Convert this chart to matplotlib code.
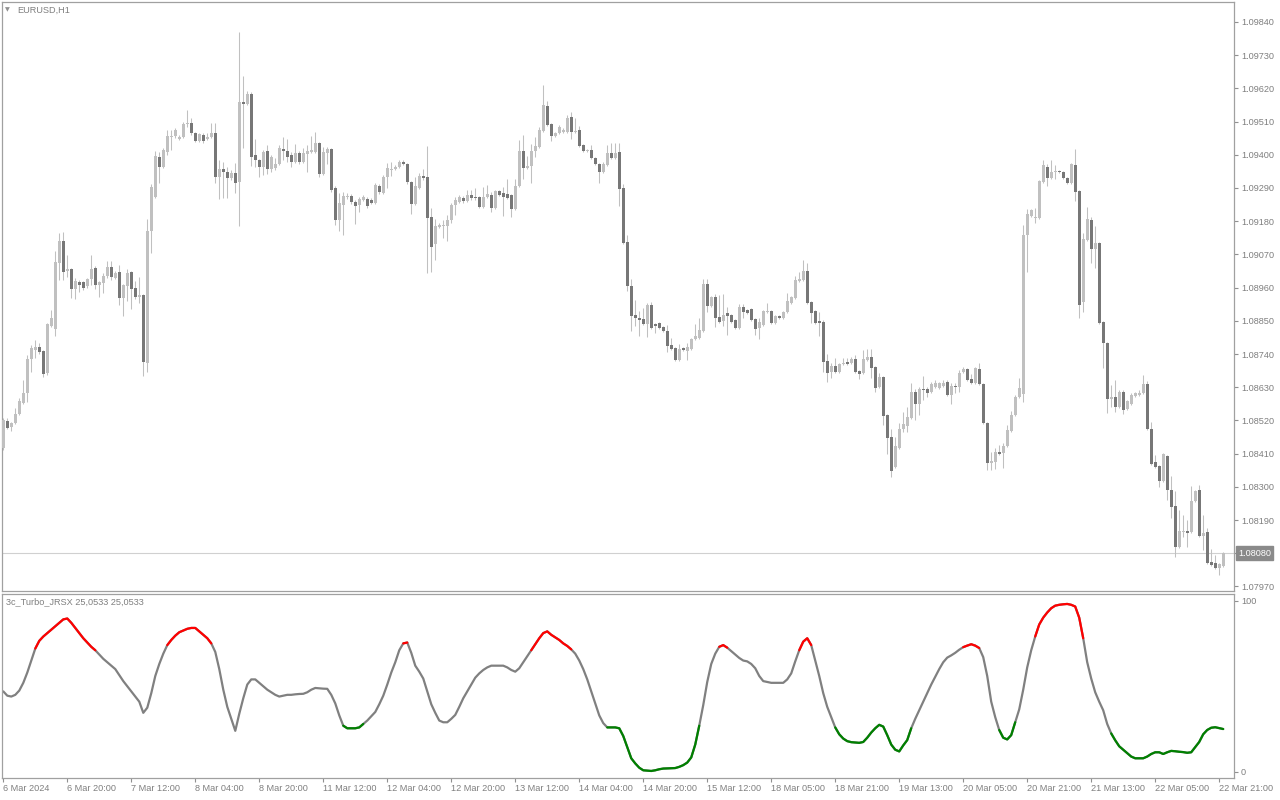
import numpy as np
import matplotlib.pyplot as plt
from matplotlib.transforms import blended_transform_factory

W, H = 1280, 800

# EURUSD H1 candles, 6 Mar 2024 04:00 .. 22 Mar 21:00
opens = [
    1.08429, 1.08518, 1.08498, 1.08512, 1.08541, 1.08578, 1.08611, 1.08724, 1.08754, 1.08763,
    1.08750, 1.08677, 1.08833, 1.08823, 1.09042, 1.09115, 1.09015, 1.09022, 1.08956, 1.08979,
    1.08979, 1.08966, 1.08989, 1.09025, 1.08969, 1.08976, 1.08999, 1.09028, 1.08992, 1.09012,
    1.08926, 1.08966, 1.09012, 1.08959, 1.08929, 1.08936, 1.08710, 1.09148, 1.09260, 1.09393,
    1.09360, 1.09410, 1.09459, 1.09462, 1.09453, 1.09459, 1.09502, 1.09506, 1.09472, 1.09446,
    1.09466, 1.09453, 1.09459, 1.09472, 1.09327, 1.09353, 1.09343, 1.09323, 1.09340, 1.09310,
    1.09575, 1.09568, 1.09602, 1.09400, 1.09383, 1.09360, 1.09413, 1.09353, 1.09356, 1.09370,
    1.09419, 1.09413, 1.09400, 1.09376, 1.09406, 1.09376, 1.09403, 1.09410, 1.09410, 1.09439,
    1.09337, 1.09406, 1.09419, 1.09290, 1.09184, 1.09234, 1.09260, 1.09264, 1.09244, 1.09234,
    1.09250, 1.09254, 1.09250, 1.09241, 1.09297, 1.09274, 1.09327, 1.09350, 1.09353, 1.09360,
    1.09376, 1.09370, 1.09310, 1.09237, 1.09290, 1.09330, 1.09327, 1.09194, 1.09105, 1.09161,
    1.09164, 1.09164, 1.09184, 1.09234, 1.09244, 1.09257, 1.09247, 1.09267, 1.09260, 1.09260,
    1.09227, 1.09260, 1.09267, 1.09224, 1.09280, 1.09274, 1.09270, 1.09267, 1.09221, 1.09297,
    1.09413, 1.09356, 1.09363, 1.09413, 1.09426, 1.09479, 1.09562, 1.09502, 1.09462, 1.09472,
    1.09476, 1.09476, 1.09525, 1.09476, 1.09482, 1.09433, 1.09413, 1.09416, 1.09390, 1.09370,
    1.09343, 1.09366, 1.09406, 1.09390, 1.09410, 1.09290, 1.09111, 1.08966, 1.08869, 1.08860,
    1.08856, 1.08840, 1.08903, 1.08840, 1.08843, 1.08830, 1.08816, 1.08770, 1.08760, 1.08720,
    1.08760, 1.08750, 1.08757, 1.08790, 1.08793, 1.08816, 1.08972, 1.08899, 1.08929, 1.08863,
    1.08850, 1.08876, 1.08869, 1.08853, 1.08826, 1.08896, 1.08886, 1.08889, 1.08856, 1.08826,
    1.08836, 1.08879, 1.08883, 1.08843, 1.08866, 1.08860, 1.08879, 1.08909, 1.08926, 1.08982,
    1.08985, 1.09015, 1.08912, 1.08883, 1.08850, 1.08846, 1.08717, 1.08681, 1.08700, 1.08681,
    1.08707, 1.08714, 1.08710, 1.08724, 1.08684, 1.08677, 1.08720, 1.08730, 1.08697, 1.08631,
    1.08664, 1.08538, 1.08465, 1.08366, 1.08429, 1.08492, 1.08502, 1.08528, 1.08614, 1.08575,
    1.08624, 1.08624, 1.08614, 1.08631, 1.08628, 1.08634, 1.08648, 1.08604, 1.08634, 1.08631,
    1.08681, 1.08691, 1.08657, 1.08644, 1.08691, 1.08641, 1.08512, 1.08379, 1.08382, 1.08416,
    1.08412, 1.08435, 1.08485, 1.08538, 1.08598, 1.08608, 1.09134, 1.09198, 1.09191, 1.09191,
    1.09310, 1.09360, 1.09323, 1.09343, 1.09346, 1.09343, 1.09323, 1.09307, 1.09366, 1.09280,
    1.08912, 1.09118, 1.09184, 1.09088, 1.09108, 1.08846, 1.08777, 1.08591, 1.08598, 1.08565,
    1.08614, 1.08558, 1.08575, 1.08601, 1.08604, 1.08611, 1.08641, 1.08492, 1.08382, 1.08369,
    1.08320, 1.08402, 1.08290, 1.08237, 1.08101, 1.08151, 1.08154, 1.08151, 1.08253, 1.08290,
    1.08137, 1.08151, 1.08051, 1.08048, 1.08031, 1.08038,
]
highs = [
    1.08528, 1.08528, 1.08515, 1.08561, 1.08594, 1.08654, 1.08737, 1.08770, 1.08787, 1.08777,
    1.08754, 1.08843, 1.08886, 1.09081, 1.09141, 1.09144, 1.09068, 1.09025, 1.08992, 1.08985,
    1.08982, 1.08992, 1.09068, 1.09032, 1.08982, 1.09009, 1.09048, 1.09048, 1.09015, 1.09035,
    1.08972, 1.09022, 1.09015, 1.08982, 1.08995, 1.08939, 1.09187, 1.09303, 1.09413, 1.09410,
    1.09423, 1.09482, 1.09482, 1.09489, 1.09466, 1.09509, 1.09549, 1.09522, 1.09476, 1.09472,
    1.09472, 1.09472, 1.09506, 1.09506, 1.09383, 1.09376, 1.09360, 1.09350, 1.09373, 1.09807,
    1.09661, 1.09612, 1.09608, 1.09453, 1.09386, 1.09416, 1.09433, 1.09400, 1.09390, 1.09433,
    1.09459, 1.09453, 1.09410, 1.09436, 1.09413, 1.09423, 1.09433, 1.09462, 1.09476, 1.09443,
    1.09426, 1.09426, 1.09423, 1.09297, 1.09274, 1.09277, 1.09274, 1.09270, 1.09250, 1.09260,
    1.09267, 1.09260, 1.09257, 1.09307, 1.09303, 1.09333, 1.09373, 1.09376, 1.09366, 1.09383,
    1.09383, 1.09373, 1.09313, 1.09327, 1.09340, 1.09353, 1.09429, 1.09224, 1.09187, 1.09174,
    1.09184, 1.09201, 1.09241, 1.09260, 1.09267, 1.09264, 1.09284, 1.09284, 1.09290, 1.09264,
    1.09294, 1.09300, 1.09277, 1.09284, 1.09284, 1.09294, 1.09320, 1.09270, 1.09320, 1.09449,
    1.09466, 1.09396, 1.09436, 1.09459, 1.09492, 1.09631, 1.09578, 1.09506, 1.09476, 1.09499,
    1.09489, 1.09532, 1.09542, 1.09522, 1.09496, 1.09436, 1.09419, 1.09433, 1.09393, 1.09373,
    1.09376, 1.09433, 1.09439, 1.09439, 1.09439, 1.09303, 1.09134, 1.08989, 1.08919, 1.08883,
    1.08893, 1.08909, 1.08912, 1.08843, 1.08846, 1.08833, 1.08836, 1.08793, 1.08763, 1.08773,
    1.08763, 1.08777, 1.08793, 1.08840, 1.08860, 1.08989, 1.08989, 1.08932, 1.08939, 1.08936,
    1.08939, 1.08896, 1.08873, 1.08856, 1.08906, 1.08906, 1.08889, 1.08893, 1.08860, 1.08860,
    1.08886, 1.08909, 1.08886, 1.08869, 1.08869, 1.08883, 1.08942, 1.08932, 1.08999, 1.09012,
    1.09052, 1.09042, 1.08916, 1.08886, 1.08879, 1.08853, 1.08740, 1.08710, 1.08727, 1.08710,
    1.08727, 1.08727, 1.08730, 1.08737, 1.08687, 1.08754, 1.08757, 1.08757, 1.08700, 1.08677,
    1.08667, 1.08541, 1.08492, 1.08465, 1.08512, 1.08548, 1.08565, 1.08644, 1.08624, 1.08631,
    1.08667, 1.08631, 1.08648, 1.08654, 1.08648, 1.08654, 1.08654, 1.08644, 1.08644, 1.08687,
    1.08697, 1.08694, 1.08674, 1.08697, 1.08710, 1.08644, 1.08515, 1.08416, 1.08429, 1.08439,
    1.08445, 1.08505, 1.08551, 1.08604, 1.08661, 1.09168, 1.09221, 1.09221, 1.09224, 1.09317,
    1.09383, 1.09370, 1.09383, 1.09366, 1.09350, 1.09346, 1.09327, 1.09373, 1.09419, 1.09284,
    1.09141, 1.09227, 1.09194, 1.09164, 1.09111, 1.08850, 1.08780, 1.08638, 1.08654, 1.08621,
    1.08621, 1.08588, 1.08611, 1.08614, 1.08621, 1.08671, 1.08651, 1.08515, 1.08406, 1.08372,
    1.08412, 1.08406, 1.08336, 1.08286, 1.08223, 1.08207, 1.08190, 1.08303, 1.08290, 1.08306,
    1.08207, 1.08164, 1.08094, 1.08074, 1.08048, 1.08084,
]
lows = [
    1.08422, 1.08492, 1.08485, 1.08508, 1.08538, 1.08575, 1.08581, 1.08681, 1.08727, 1.08740,
    1.08664, 1.08671, 1.08830, 1.08800, 1.08985, 1.08985, 1.08995, 1.08926, 1.08922, 1.08946,
    1.08952, 1.08959, 1.08969, 1.08956, 1.08929, 1.08942, 1.08992, 1.08985, 1.08989, 1.08903,
    1.08866, 1.08916, 1.08889, 1.08922, 1.08909, 1.08667, 1.08681, 1.09075, 1.09257, 1.09307,
    1.09356, 1.09400, 1.09416, 1.09456, 1.09449, 1.09456, 1.09492, 1.09466, 1.09443, 1.09443,
    1.09439, 1.09449, 1.09456, 1.09307, 1.09254, 1.09257, 1.09257, 1.09317, 1.09274, 1.09164,
    1.09423, 1.09565, 1.09363, 1.09360, 1.09327, 1.09333, 1.09337, 1.09343, 1.09350, 1.09366,
    1.09383, 1.09376, 1.09360, 1.09373, 1.09370, 1.09373, 1.09343, 1.09406, 1.09406, 1.09327,
    1.09333, 1.09370, 1.09277, 1.09168, 1.09148, 1.09134, 1.09254, 1.09237, 1.09171, 1.09211,
    1.09247, 1.09224, 1.09237, 1.09237, 1.09270, 1.09270, 1.09290, 1.09330, 1.09350, 1.09356,
    1.09366, 1.09303, 1.09204, 1.09234, 1.09287, 1.09317, 1.09009, 1.09012, 1.09052, 1.09158,
    1.09125, 1.09115, 1.09174, 1.09201, 1.09241, 1.09241, 1.09244, 1.09250, 1.09250, 1.09224,
    1.09224, 1.09257, 1.09211, 1.09221, 1.09264, 1.09198, 1.09254, 1.09194, 1.09217, 1.09294,
    1.09320, 1.09353, 1.09307, 1.09393, 1.09423, 1.09476, 1.09496, 1.09446, 1.09459, 1.09469,
    1.09472, 1.09472, 1.09453, 1.09472, 1.09426, 1.09410, 1.09410, 1.09386, 1.09366, 1.09307,
    1.09340, 1.09363, 1.09386, 1.09386, 1.09231, 1.09105, 1.08949, 1.08816, 1.08833, 1.08800,
    1.08836, 1.08797, 1.08823, 1.08810, 1.08823, 1.08813, 1.08747, 1.08754, 1.08717, 1.08717,
    1.08750, 1.08720, 1.08754, 1.08787, 1.08790, 1.08813, 1.08879, 1.08896, 1.08830, 1.08843,
    1.08833, 1.08803, 1.08843, 1.08823, 1.08823, 1.08860, 1.08873, 1.08850, 1.08803, 1.08790,
    1.08833, 1.08876, 1.08840, 1.08840, 1.08856, 1.08856, 1.08876, 1.08906, 1.08922, 1.08979,
    1.08982, 1.08906, 1.08843, 1.08840, 1.08800, 1.08681, 1.08648, 1.08661, 1.08677, 1.08677,
    1.08704, 1.08704, 1.08707, 1.08677, 1.08657, 1.08674, 1.08717, 1.08661, 1.08614, 1.08628,
    1.08505, 1.08409, 1.08333, 1.08363, 1.08426, 1.08482, 1.08482, 1.08525, 1.08522, 1.08538,
    1.08588, 1.08598, 1.08611, 1.08628, 1.08624, 1.08631, 1.08601, 1.08575, 1.08611, 1.08614,
    1.08677, 1.08651, 1.08641, 1.08641, 1.08638, 1.08508, 1.08356, 1.08356, 1.08359, 1.08406,
    1.08363, 1.08432, 1.08482, 1.08535, 1.08594, 1.08581, 1.09012, 1.09194, 1.09174, 1.09187,
    1.09307, 1.09297, 1.09320, 1.09320, 1.09340, 1.09320, 1.09303, 1.09303, 1.09247, 1.08860,
    1.08879, 1.09115, 1.09042, 1.09025, 1.08840, 1.08694, 1.08545, 1.08565, 1.08548, 1.08561,
    1.08541, 1.08555, 1.08571, 1.08598, 1.08601, 1.08608, 1.08488, 1.08372, 1.08363, 1.08300,
    1.08316, 1.08257, 1.08197, 1.08068, 1.08097, 1.08134, 1.08101, 1.08147, 1.08250, 1.08134,
    1.08091, 1.08044, 1.08038, 1.08028, 1.08008, 1.08034,
]
closes = [
    1.08522, 1.08495, 1.08512, 1.08541, 1.08585, 1.08611, 1.08724, 1.08760, 1.08763, 1.08747,
    1.08674, 1.08840, 1.08860, 1.09045, 1.09115, 1.09012, 1.09022, 1.08956, 1.08982, 1.08969,
    1.08959, 1.08989, 1.09022, 1.08969, 1.08979, 1.08999, 1.09028, 1.08995, 1.09009, 1.08926,
    1.08969, 1.09009, 1.08956, 1.08929, 1.08936, 1.08714, 1.09148, 1.09294, 1.09396, 1.09360,
    1.09416, 1.09462, 1.09462, 1.09482, 1.09459, 1.09502, 1.09506, 1.09472, 1.09446, 1.09469,
    1.09446, 1.09459, 1.09472, 1.09327, 1.09353, 1.09343, 1.09323, 1.09340, 1.09307, 1.09575,
    1.09568, 1.09602, 1.09393, 1.09383, 1.09360, 1.09410, 1.09353, 1.09393, 1.09370, 1.09423,
    1.09413, 1.09393, 1.09376, 1.09406, 1.09376, 1.09406, 1.09413, 1.09416, 1.09439, 1.09337,
    1.09410, 1.09419, 1.09284, 1.09184, 1.09241, 1.09264, 1.09264, 1.09244, 1.09231, 1.09254,
    1.09260, 1.09231, 1.09241, 1.09300, 1.09277, 1.09327, 1.09356, 1.09353, 1.09360, 1.09376,
    1.09370, 1.09310, 1.09237, 1.09297, 1.09330, 1.09323, 1.09191, 1.09095, 1.09164, 1.09168,
    1.09168, 1.09184, 1.09234, 1.09250, 1.09260, 1.09247, 1.09267, 1.09257, 1.09257, 1.09227,
    1.09260, 1.09270, 1.09224, 1.09280, 1.09267, 1.09260, 1.09257, 1.09221, 1.09297, 1.09413,
    1.09356, 1.09363, 1.09413, 1.09429, 1.09482, 1.09565, 1.09499, 1.09462, 1.09472, 1.09492,
    1.09482, 1.09522, 1.09476, 1.09479, 1.09429, 1.09413, 1.09416, 1.09390, 1.09370, 1.09343,
    1.09370, 1.09406, 1.09390, 1.09406, 1.09287, 1.09108, 1.08966, 1.08866, 1.08860, 1.08853,
    1.08840, 1.08903, 1.08826, 1.08833, 1.08826, 1.08816, 1.08767, 1.08757, 1.08720, 1.08757,
    1.08754, 1.08763, 1.08790, 1.08800, 1.08820, 1.08972, 1.08899, 1.08929, 1.08860, 1.08846,
    1.08869, 1.08866, 1.08846, 1.08826, 1.08896, 1.08879, 1.08876, 1.08853, 1.08823, 1.08846,
    1.08883, 1.08883, 1.08843, 1.08866, 1.08860, 1.08879, 1.08916, 1.08929, 1.08985, 1.08989,
    1.09015, 1.08909, 1.08876, 1.08843, 1.08843, 1.08714, 1.08677, 1.08700, 1.08681, 1.08707,
    1.08710, 1.08707, 1.08724, 1.08681, 1.08674, 1.08724, 1.08730, 1.08694, 1.08628, 1.08664,
    1.08535, 1.08462, 1.08353, 1.08435, 1.08492, 1.08508, 1.08531, 1.08614, 1.08575, 1.08624,
    1.08621, 1.08611, 1.08641, 1.08644, 1.08644, 1.08644, 1.08604, 1.08634, 1.08631, 1.08677,
    1.08691, 1.08654, 1.08644, 1.08694, 1.08641, 1.08512, 1.08379, 1.08386, 1.08416, 1.08409,
    1.08435, 1.08488, 1.08538, 1.08598, 1.08628, 1.09134, 1.09204, 1.09217, 1.09194, 1.09313,
    1.09366, 1.09323, 1.09343, 1.09346, 1.09343, 1.09323, 1.09307, 1.09370, 1.09277, 1.08903,
    1.09121, 1.09187, 1.09088, 1.09108, 1.08843, 1.08777, 1.08591, 1.08598, 1.08565, 1.08614,
    1.08555, 1.08585, 1.08604, 1.08611, 1.08611, 1.08641, 1.08492, 1.08376, 1.08366, 1.08320,
    1.08409, 1.08290, 1.08233, 1.08101, 1.08154, 1.08154, 1.08147, 1.08253, 1.08286, 1.08137,
    1.08147, 1.08048, 1.08041, 1.08031, 1.08044, 1.08080,
]

# 3c_Turbo_JRSX, one value per bar
jrsx = [
    47, 44.5, 44, 45, 47.5, 52, 58, 65, 72, 76.5,
    79, 81, 83, 85, 87, 89, 89.5, 87, 84, 81,
    78, 75.5, 73, 71, 68.5, 66, 64, 62, 60, 56.5,
    53, 50, 47, 44, 41, 34.5, 37.5, 46, 56, 63,
    69, 74, 77, 79.5, 81.5, 82.5, 83.5, 84, 84, 82,
    80, 78, 75, 70, 60, 48, 38, 31, 24, 34,
    43, 51, 54, 54, 52, 50, 48, 46.5, 45, 44,
    44.5, 45, 45, 45.3, 45.5, 45.6, 46.5, 48, 49, 48.8,
    48.6, 48.5, 45, 40, 33, 27, 25.5, 25.5, 25.5, 26,
    28, 30, 32.5, 35, 39.5, 44.5, 51, 58, 64, 71,
    75, 75.5, 69.5, 62, 58.5, 54.5, 47, 39.5, 34.5, 30,
    29, 29, 31, 33.3, 38, 43, 47, 51, 55, 57.5,
    59.5, 61, 62, 62, 62, 62, 61, 59.5, 58.5, 60.5,
    64, 67.5, 71, 74.5, 78, 81, 82, 80, 78.5, 77,
    75, 73.5, 71.5, 69, 65, 60, 54, 47, 40, 33,
    28.5, 26, 26, 26, 25.5, 21, 14.5, 8, 5, 2.5,
    1, 0.8, 0.6, 1, 1.6, 2, 2.1, 2.2, 2.3, 3,
    4, 5.5, 8.5, 16, 27, 39, 52.5, 63, 69, 73,
    74, 72.5, 70.5, 68.5, 66.5, 65, 64.5, 63, 60.5, 56,
    53, 52.5, 52, 52, 52, 52, 54, 57.5, 64.5, 71,
    76, 78, 74, 65, 56, 46, 38, 32, 26, 22,
    19.5, 18, 17.4, 17.2, 17, 17.5, 20, 23, 25.5, 27.5,
    26.5, 21.5, 16, 13, 12, 15.5, 18.6, 25.5, 31, 36,
    41, 46, 51, 55.5, 60, 64, 66.7, 68, 69.5, 71.3,
    72.8, 73.7, 74.5, 73.7, 72.3, 67, 56, 41, 32, 24.5,
    20, 19, 21.5, 29, 36.5, 48, 61, 71, 79, 86,
    90, 93, 95.5, 97, 97.5, 97.8, 98, 97.5, 96.5, 90,
    78, 64, 54.5, 46.5, 41, 36, 28, 22.5, 18.5, 15,
    13, 11, 9, 8, 8, 8, 9, 10.5, 11.5, 11.5,
    10.5, 11.5, 12.3, 12.1, 11.8, 11.6, 11.2, 11.5, 14.5, 17.5,
    22, 24.5, 25.8, 26.1, 25.6, 25.05,
]
red_spans = [(8, 23), (41, 52), (100, 101), (132, 142), (179, 181), (199, 202), (240, 244), (258, 270)]
green_spans = [(85, 90), (151, 174), (208, 227), (249, 253), (277, 305)]

price_ticks = [1.09840, 1.09730, 1.09620, 1.09510, 1.09400, 1.09290, 1.09180, 1.09070, 1.08960,
               1.08850, 1.08740, 1.08630, 1.08520, 1.08410, 1.08300, 1.08190, 1.08080, 1.07970]
time_labels = ["6 Mar 2024", "6 Mar 20:00", "7 Mar 12:00", "8 Mar 04:00", "8 Mar 20:00",
               "11 Mar 12:00", "12 Mar 04:00", "12 Mar 20:00", "13 Mar 12:00", "14 Mar 04:00",
               "14 Mar 20:00", "15 Mar 12:00", "18 Mar 05:00", "18 Mar 21:00", "19 Mar 13:00",
               "20 Mar 05:00", "20 Mar 21:00", "21 Mar 13:00", "22 Mar 05:00", "22 Mar 21:00"]
last_price = 1.08080

txt = '#7f7f7f'
frame = '#a0a0a0'
fs = 6.6


def px_box(x0, y0, x1, y1):
    return [x0 / W, 1 - y1 / H, (x1 - x0) / W, (y1 - y0) / H]


plt.rcParams['font.family'] = ['Liberation Sans', 'DejaVu Sans']
fig = plt.figure(figsize=(W / 100, H / 100), dpi=100)
ax = fig.add_axes(px_box(2, 2, 1234, 591))
ax2 = fig.add_axes(px_box(2, 594, 1234, 778))

x = np.arange(len(closes))
o = np.array(opens)
c = np.array(closes)
hi = np.array(highs)
lo = np.array(lows)
up = c >= o

# candles
ax.vlines(x, lo, hi, color='#c0c0c0', lw=0.75, zorder=2)
bottom = np.minimum(o, c)
height = np.maximum(np.abs(c - o), 0.00003)
ax.bar(x[up], height[up], bottom=bottom[up], width=0.75, color='#c0c0c0', lw=0, zorder=3)
ax.bar(x[~up], height[~up], bottom=bottom[~up], width=0.75, color='#777777', lw=0, zorder=3)

# bid line + price box (the box replaces the axis label at that level)
ax.axhline(last_price, color='#d0d0d0', lw=0.8, zorder=1)
trans = blended_transform_factory(ax.transAxes, ax.transData)
ax.text(1.0 + 4 / 1232, last_price, '%.5f' % last_price, transform=trans, ha='left', va='center',
        fontsize=fs, color='white', clip_on=False, zorder=10,
        bbox=dict(boxstyle='square,pad=0.25', fc='#8a8a8a', ec='#8a8a8a'))

ax.set_xlim(-0.325, 307.7)
ax.set_ylim(1.07955, 1.09906)
ax.set_xticks([])
ax.yaxis.tick_right()
ax.set_yticks(price_ticks)
ax.set_yticklabels(['' if abs(p - last_price) < 1e-7 else '%.5f' % p for p in price_ticks])
ax.tick_params(axis='y', direction='out', length=3, width=0.8, color='#909090',
               labelcolor=txt, labelsize=fs, pad=2)

# indicator
j = np.array(jrsx)
ax2.plot(x, j, color='#808080', lw=1.6, solid_capstyle='round')
for a, b in red_spans:
    ax2.plot(x[a:b + 1], j[a:b + 1], color='#ff0000', lw=1.6, solid_capstyle='round')
for a, b in green_spans:
    ax2.plot(x[a:b + 1], j[a:b + 1], color='#008000', lw=1.6, solid_capstyle='round')

ax2.set_xlim(-0.325, 307.7)
ax2.set_ylim(-3.5, 103.8)
ax2.yaxis.tick_right()
ax2.set_yticks([0, 100])
ax2.set_yticklabels(['0', '100'])
ax2.tick_params(axis='y', direction='out', length=3, width=0.8, color='#909090',
                labelcolor=txt, labelsize=fs, pad=2)
ax2.set_xticks(x[::16][:len(time_labels)])
ax2.set_xticklabels(time_labels, ha='left')
ax2.tick_params(axis='x', direction='out', length=3, width=0.8, color='#909090',
                labelcolor=txt, labelsize=fs, pad=1.5)

for a in (ax, ax2):
    for s in a.spines.values():
        s.set_color(frame)
        s.set_linewidth(0.9)

fig.text(5 / W, 1 - 10 / H, '\u25bc', fontsize=4.5, color='#909090', family='DejaVu Sans',
         ha='left', va='center')
fig.text(17 / W, 1 - 10 / H, 'EURUSD,H1', fontsize=fs, color=txt, ha='left', va='center')
fig.text(6 / W, 1 - 602 / H, '3c_Turbo_JRSX 25,0533 25,0533', fontsize=fs, color=txt,
         ha='left', va='center')

fig.savefig('out.png', dpi=100, facecolor='white')
